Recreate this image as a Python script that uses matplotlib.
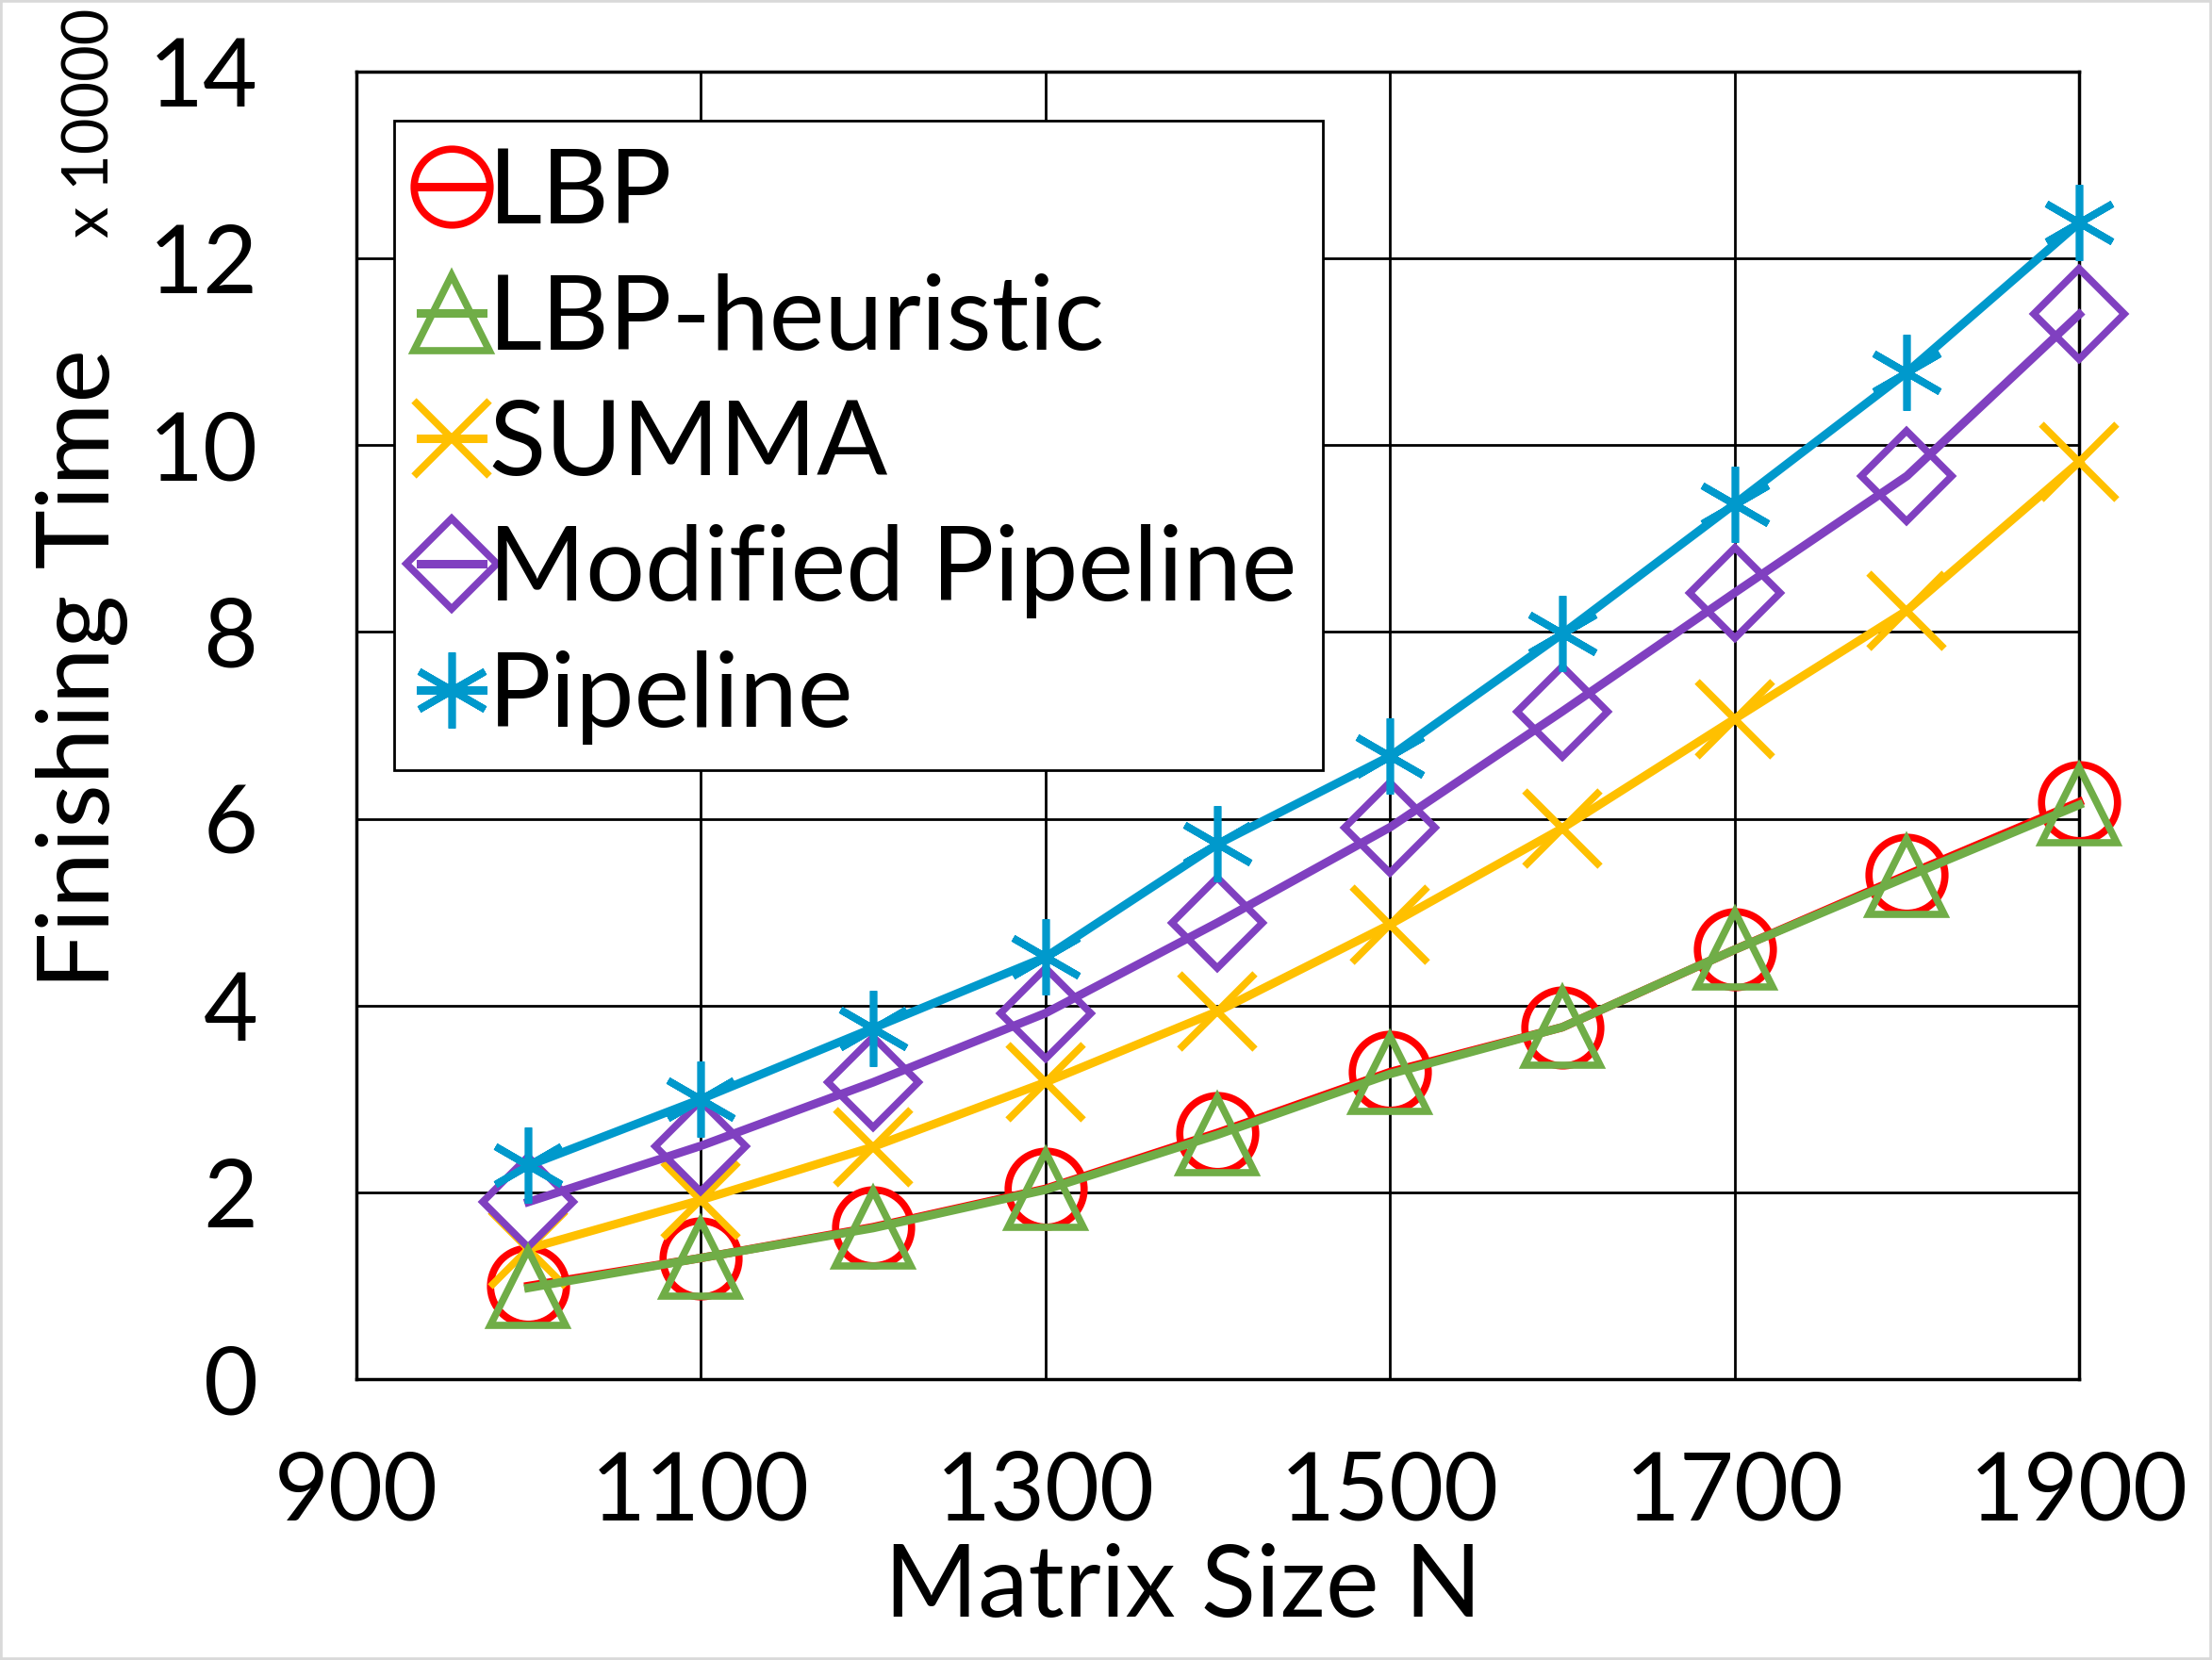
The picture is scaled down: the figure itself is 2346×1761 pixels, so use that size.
import matplotlib.pyplot as plt
from matplotlib.patches import Rectangle

plt.rcParams['font.family'] = ['Lato', 'DejaVu Sans']

# matrix sizes
sizes = [1000, 1100, 1200, 1300, 1400, 1500, 1600, 1700, 1800, 1900]

# finishing times, in units of 10000
lbp = [1.0, 1.3, 1.63, 2.04, 2.64, 3.29, 3.77, 4.6, 5.4, 6.18]
lbp_heur = [0.98, 1.3, 1.62, 2.03, 2.62, 3.27, 3.77, 4.6, 5.38, 6.15]
summa = [1.4, 1.92, 2.49, 3.18, 3.94, 4.87, 5.9, 7.07, 8.23, 9.82]
mod_pipe = [1.9, 2.5, 3.18, 3.92, 4.89, 5.91, 7.15, 8.42, 9.67, 11.4]
pipeline = [2.29, 3.0, 3.76, 4.52, 5.73, 6.67, 7.98, 9.37, 10.78, 12.38]

xticks = [900, 1100, 1300, 1500, 1700, 1900]
yticks = [0, 2, 4, 6, 8, 10, 12, 14]

fig = plt.figure(figsize=(23.46, 17.61), dpi=100)
ax = fig.add_axes([0.161, 0.169, 0.779, 0.788])

lw = 6.5
ms = 58
mew = 5.5
ax.plot(sizes, lbp, color='#FF0000', lw=lw, marker='o', ms=ms, mfc='none', mew=mew, label='LBP', zorder=3, clip_on=False)
ax.plot(sizes, lbp_heur, color='#70AD47', lw=lw, marker='^', ms=ms, mfc='none', mew=mew, label='LBP-heuristic', zorder=4, clip_on=False)
ax.plot(sizes, summa, color='#FFC000', lw=lw, marker='x', ms=ms, mfc='none', mew=mew, label='SUMMA', zorder=3, clip_on=False)
ax.plot(sizes, mod_pipe, color='#8040C0', lw=lw, marker='D', ms=ms * 0.85, mfc='none', mew=mew, label='Modified Pipeline', zorder=3, clip_on=False)
ax.plot(sizes, pipeline, color='#0099CC', lw=lw, marker=(6, 2, 0), ms=ms, mfc='none', mew=mew, label='Pipeline', zorder=3, clip_on=False)

ax.set_xlim(900, 1900)
ax.set_ylim(0, 14)
ax.set_xticks(xticks)
ax.set_yticks(yticks)
ax.grid(True, color='black', lw=2)
ax.tick_params(length=0, labelsize=72)
ax.tick_params(axis='x', pad=54)
ax.tick_params(axis='y', pad=75)
for s in ax.spines.values():
    s.set_linewidth(2.5)

fig.text(0.535, 0.043, 'Matrix Size N', fontsize=77, ha='center', va='center')
fig.text(0.037, 0.597, 'Finishing Time', rotation=90, fontsize=77, ha='center', va='center')
fig.text(0.041, 0.995, 'x 10000', rotation=90, fontsize=48, ha='center', va='top')

leg = ax.legend(loc='upper left', bbox_to_anchor=(0.022, 0.962), borderaxespad=0, fontsize=80,
                handlelength=0.6, handletextpad=0.05, borderpad=0.25,
                labelspacing=0.3, fancybox=False, framealpha=1, edgecolor='black',
                markerscale=1.0)
leg.get_frame().set_linewidth(2)

fig.patches.append(Rectangle((0, 0), 1, 1, transform=fig.transFigure, fill=False,
                             edgecolor='#D9D9D9', lw=4))

fig.savefig('out.png', dpi=100)
